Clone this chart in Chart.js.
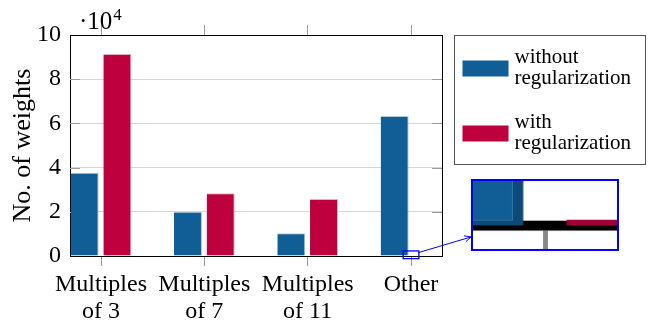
<!DOCTYPE html>
<html>
<head>
<meta charset="utf-8">
<script src="https://cdn.jsdelivr.net/npm/chart.js@4/dist/chart.umd.min.js"></script>
<style>
  html, body { margin: 0; padding: 0; background: #fff; }
  #wrap { position: relative; width: 651px; height: 325px; }
  #main { position: absolute; left: 0; top: 0; }
  #zoom { position: absolute; left: 471px; top: 179px; border: 2px solid #0000ff; background: #fff; }
</style>
</head>
<body>
<div id="wrap">
  <canvas id="main" width="651" height="325"></canvas>
  <canvas id="zoom" width="148" height="72"></canvas>
</div>
<script>
// Category labels (one entry per line of the label)
const categories = [["Multiples", "of 3"], ["Multiples", "of 7"], ["Multiples", "of 11"], ["Other"]];
// Series names (two lines each)
const seriesNames = [["without", "regularization"], ["with", "regularization"]];
// Number of weights, in units of 10^4
const withoutReg = [3.77, 2.00, 1.03, 6.33];
const withReg = [9.14, 2.84, 2.58, 0.03];
// Y axis ticks
const yTicks = [0, 2, 4, 6, 8, 10];
const yMin = 0, yMax = 10;
// Magnified window around the small "Other" bar (x in category units, y in 10^4)
const zoomX = [2.924, 3.076];
const zoomY = [-0.119, 0.228];

const BLUE = '#115e97';
const RED = '#be003f';
const SERIF = "'Liberation Serif', 'Times New Roman', serif";

Chart.defaults.font.family = SERIF;
Chart.defaults.color = '#000';

const catTicks = (lo, hi) => categories.map((c, i) => i).filter(v => v >= lo && v <= hi).map(v => ({ value: v }));

function points(arr) { return arr.map((v, i) => ({ x: i, y: v })); }

// Bar group width as a share of one category
const groupShare = 0.633;
const barShare = 0.856;

// Inward tick marks on both y sides
const innerTicks = {
  id: 'innerTicks',
  beforeDatasetsDraw(chart) {
    const { ctx, chartArea: a, scales: { y } } = chart;
    ctx.save();
    ctx.strokeStyle = '#9a9a9a';
    ctx.lineWidth = 1;
    yTicks.forEach(v => {
      if (v === yMin || v === yMax) return;
      const py = Math.round(y.getPixelForValue(v)) + 0.5;
      ctx.beginPath();
      ctx.moveTo(a.left, py); ctx.lineTo(a.left + 10, py);
      ctx.moveTo(a.right - 10, py); ctx.lineTo(a.right, py);
      ctx.stroke();
    });
    ctx.restore();
  }
};

// Scale factor label, legend box and the zoom marker
const decorations = {
  id: 'decorations',
  afterDraw(chart) {
    const { ctx, chartArea: a, scales: { x, y } } = chart;
    ctx.save();
    // ·10^4
    ctx.fillStyle = '#000';
    ctx.textBaseline = 'alphabetic';
    ctx.textAlign = 'left';
    ctx.font = '25px ' + SERIF;
    const base = '\u00b710';
    ctx.fillText(base, a.left + 9, 29);
    const w = ctx.measureText(base).width;
    ctx.font = '17px ' + SERIF;
    ctx.fillText('4', a.left + 9 + w + 1, 20);

    // legend
    const lx = a.right + 12.5, ly = a.top + 0.5, lw = 191, lh = 129;
    ctx.strokeStyle = '#555';
    ctx.lineWidth = 1;
    ctx.strokeRect(lx, ly, lw, lh);
    ctx.font = '21px ' + SERIF;
    ctx.textBaseline = 'alphabetic';
    chart.data.datasets.forEach((ds, i) => {
      const cy = ly + 33 + i * 65;
      ctx.fillStyle = ds.backgroundColor;
      ctx.fillRect(lx + 8, cy - 8, 46, 16);
      ctx.fillStyle = '#000';
      const lines = ds.label;
      lines.forEach((t, k) => ctx.fillText(t, lx + 60, cy - 6 + k * 21.6));
    });

    // source rectangle of the magnified view
    const x0 = x.getPixelForValue(zoomX[0]), x1 = x.getPixelForValue(zoomX[1]);
    const y0 = y.getPixelForValue(zoomY[1]), y1 = y.getPixelForValue(zoomY[0]);
    ctx.strokeStyle = '#0000ff';
    ctx.lineWidth = 1.3;
    ctx.strokeRect(x0, y0, x1 - x0, y1 - y0);

    // connector to the magnified view
    const el = document.getElementById('zoom');
    const zx0 = el.offsetLeft, zy0 = el.offsetTop, zw = el.offsetWidth, zh = el.offsetHeight;
    const sc = { x: (x0 + x1) / 2, y: (y0 + y1) / 2 };
    const zc = { x: zx0 + zw / 2, y: zy0 + zh / 2 };
    const dx = zc.x - sc.x, dy = zc.y - sc.y;
    const tStart = Math.min(((x1 - x0) / 2) / Math.abs(dx), ((y1 - y0) / 2) / Math.abs(dy));
    const tEnd = 1 - Math.min((zw / 2) / Math.abs(dx), (zh / 2) / Math.abs(dy));
    const p = { x: sc.x + dx * tStart, y: sc.y + dy * tStart };
    const q = { x: sc.x + dx * tEnd, y: sc.y + dy * tEnd };
    ctx.lineWidth = 1;
    ctx.beginPath();
    ctx.moveTo(p.x, p.y); ctx.lineTo(q.x, q.y);
    const ang = Math.atan2(dy, dx);
    const hl = 7, ha = 0.45;
    ctx.moveTo(q.x - hl * Math.cos(ang - ha), q.y - hl * Math.sin(ang - ha));
    ctx.lineTo(q.x, q.y);
    ctx.lineTo(q.x - hl * Math.cos(ang + ha), q.y - hl * Math.sin(ang + ha));
    ctx.stroke();
    ctx.restore();
  }
};

const tickFont = { size: 24, family: SERIF };
const labelFont = { size: 24, family: SERIF, lineHeight: 1.1 };

// Magnified view: same data on a narrow window.
// The bar ruler is capped at the axis length, so the group share is
// rescaled by the window width to keep the same bar size per category.
new Chart(document.getElementById('zoom'), {
  type: 'bar',
  data: {
    datasets: [
      { label: seriesNames[0], data: points(withoutReg), backgroundColor: BLUE,
        borderColor: '#0d4a78', borderWidth: { right: 11, bottom: 6, top: 0, left: 0 }, borderSkipped: false },
      { label: seriesNames[1], data: points(withReg), backgroundColor: '#9e0033', borderWidth: 0 }
    ]
  },
  options: {
    responsive: false, animation: false, devicePixelRatio: 1,
    layout: { padding: 0 },
    events: [],
    plugins: { legend: { display: false }, tooltip: { enabled: false } },
    datasets: { bar: { categoryPercentage: groupShare / (zoomX[1] - zoomX[0]), barPercentage: barShare } },
    scales: {
      x: {
        type: 'linear', min: zoomX[0], max: zoomX[1], offset: false,
        afterBuildTicks: s => { s.ticks = catTicks(zoomX[0], zoomX[1]); },
        ticks: { display: false },
        grid: { offset: false, drawOnChartArea: false, tickLength: 40, tickWidth: 5, tickColor: '#888' },
        border: { color: '#000', width: 10.6 },
        afterFit: s => { s.height = 72 * (-zoomY[0]) / (zoomY[1] - zoomY[0]); }
      },
      y: { display: false, min: 0, max: zoomY[1] }
    }
  }
});

// Main chart
new Chart(document.getElementById('main'), {
  type: 'bar',
  data: {
    datasets: [
      { label: seriesNames[0], data: points(withoutReg), backgroundColor: BLUE, borderColor: 'rgba(170,195,215,0.9)', borderWidth: { right: 1, top: 1 }, borderSkipped: 'bottom' },
      { label: seriesNames[1], data: points(withReg), backgroundColor: RED, borderColor: 'rgba(225,170,185,0.9)', borderWidth: { right: 1, top: 1 }, borderSkipped: 'bottom' }
    ]
  },
  options: {
    responsive: false, animation: false, devicePixelRatio: 1,
    layout: { padding: 0 },
    events: [],
    plugins: { legend: { display: false }, tooltip: { enabled: false } },
    datasets: { bar: { categoryPercentage: groupShare, barPercentage: barShare } },
    scales: {
      x: {
        type: 'linear', position: 'bottom', min: -0.3, max: 3.3, offset: false,
        afterBuildTicks: s => { s.ticks = catTicks(-1, 4); },
        ticks: { callback: v => categories[v], font: labelFont, color: '#000', padding: 6, maxRotation: 0, autoSkip: false },
        grid: { offset: false, drawOnChartArea: false, tickLength: 10, tickColor: '#9a9a9a' },
        border: { color: '#000', width: 1 },
        afterFit: s => { s.height = 69; }
      },
      xTop: {
        type: 'linear', position: 'top', min: -0.3, max: 3.3, offset: false,
        afterBuildTicks: s => { s.ticks = catTicks(-1, 4); },
        ticks: { display: false },
        grid: { offset: false, drawOnChartArea: false, tickLength: 10, tickColor: '#9a9a9a' },
        border: { color: '#000', width: 1 },
        afterFit: s => { s.height = 35; }
      },
      y: {
        min: yMin, max: yMax,
        afterBuildTicks: s => { s.ticks = yTicks.map(v => ({ value: v })); },
        ticks: { font: tickFont, color: '#000', padding: 9 },
        grid: { color: '#d6d6d6', drawTicks: false },
        border: { color: '#000', width: 1 },
        title: { display: true, text: 'No. of weights', font: { size: 26, family: SERIF }, color: '#000', padding: { top: 8, bottom: 0 } },
        afterFit: s => { s.width = 70; }
      },
      yRight: {
        position: 'right', min: yMin, max: yMax,
        ticks: { display: false },
        grid: { display: false },
        border: { color: '#000', width: 1 },
        afterFit: s => { s.width = 209; }
      }
    }
  },
  plugins: [innerTicks, decorations]
});
</script>
</body>
</html>
